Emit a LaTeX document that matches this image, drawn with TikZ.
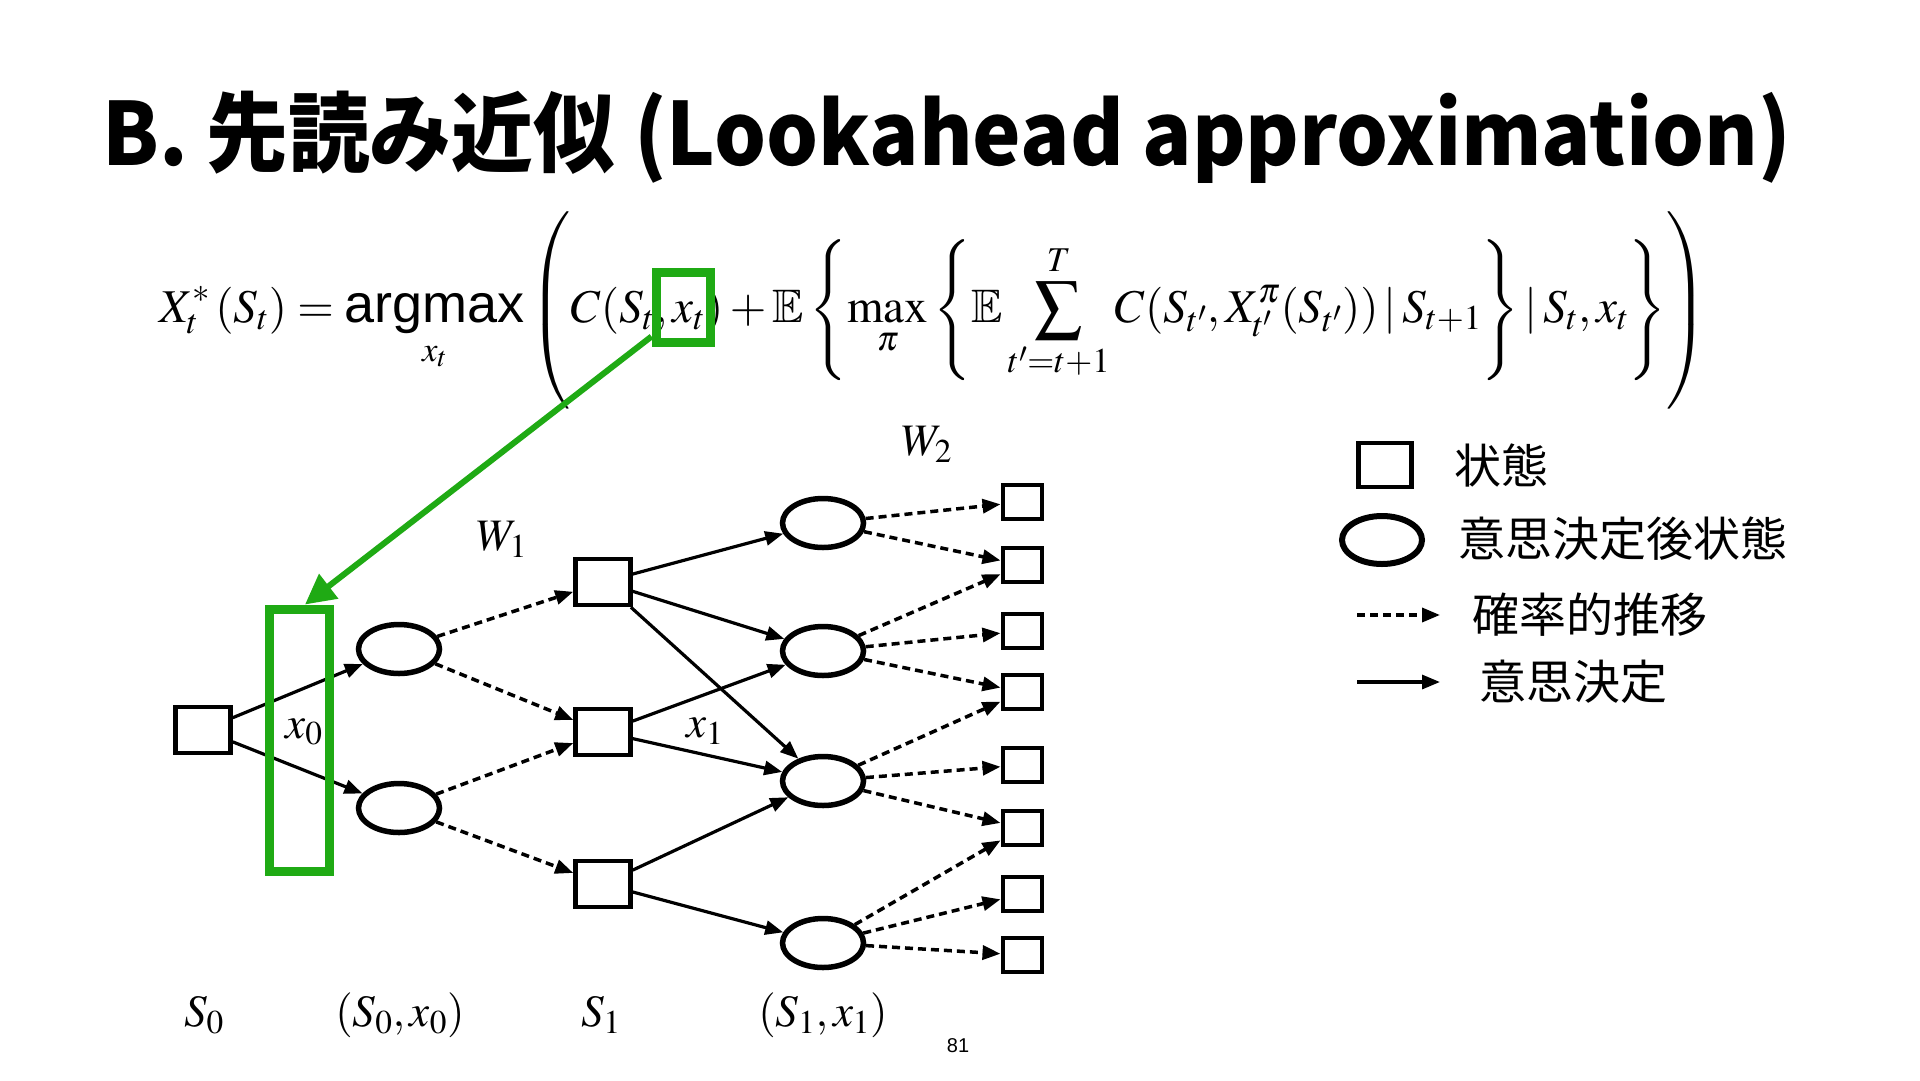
\documentclass[tikz,border=0pt]{standalone}
\usepackage{amsmath,amssymb}
\usepackage{mathptmx}
\usepackage{fontspec}
\setmainfont{Liberation Serif}
\setsansfont{Liberation Sans}
\newfontfamily\jp{Noto Sans CJK JP}
\newfontfamily\jph[FakeStretch=0.94]{Noto Sans CJK JP}
\usetikzlibrary{arrows.meta,calc,shapes.geometric}
\definecolor{grn}{RGB}{31,170,20}
\begin{document}
\begin{tikzpicture}[x=1pt,y=-1pt,
      st/.style={draw,line width=4.5pt,minimum width=55pt,minimum height=46pt,inner sep=0pt},
      lf/.style={draw,line width=4pt,minimum width=39pt,minimum height=34pt,inner sep=0pt},
      pd/.style={draw,ellipse,line width=5.5pt,minimum width=81pt,minimum height=49pt,inner sep=0pt},
      dec/.style={-{Triangle[length=18pt,width=14pt]},line width=3.2pt},
      rnd/.style={dec,line width=3.5pt,dash pattern=on 8pt off 5pt},
      lab/.style={font=\fontsize{45}{48}\selectfont},
      key/.style={anchor=west,font=\jp\fontsize{47}{52}\selectfont}]
    \fill[white] (0,0) rectangle (1920,1080);
    \useasboundingbox (0,0) rectangle (1920,1080);
    \node[anchor=base west,inner sep=0pt,font=\jph\bfseries\fontsize{87}{96}\selectfont] (title)
      at (102,165) {B. 先読み近似 (Lookahead approximation)};
    \node[anchor=base west,inner sep=0pt,font=\fontsize{47}{56}\selectfont] (eq) at (159,322)
      {$\displaystyle X_t^*\left(S_t\right) = \mathop{\text{\fontsize{54}{60}\selectfont\sffamily argmax}}\limits_{x_t}
        \left( \rule[-80pt]{0pt}{176pt} C(S_t, x_t) + \mathbb{E}\left\{ \max_\pi \left\{ \mathbb{E}
        \sum_{t'=t+1}^{T} C(S_{t'}, X^\pi_{t'}(S_{t'}))\,|\,S_{t+1} \right\}
        |\, S_t, x_t \right\}\right)$};
    % tree
    \node[st] (s0) at (203,730) {};
    \node[pd] (a1) at (399,649) {};
    \node[pd] (a2) at (399,808) {};
    \node[st] (s1) at (603,582) {};
    \node[st] (s2) at (603,732) {};
    \node[st] (s3) at (603,884) {};
    \foreach \n/\y in {b1/523,b2/651,b3/781,b4/943}
      \node[pd] (\n) at (823,\y) {};
    \foreach \n/\y in {1/502,2/565,3/631,4/692,5/765,6/828,7/894,8/955}
      \node[lf] (l\n) at (1022,\y) {};
    \foreach \t in {a1,a2}
      \draw[dec] (s0) -- (\t);
    \foreach \f/\t in {a1/s1,a1/s2,a2/s2,a2/s3}
      \draw[rnd] (\f) -- (\t);
    \foreach \f/\t in {s1/b1,s1/b2,s1/b3,s2/b2,s2/b3,s3/b3,s3/b4}
      \draw[dec] (\f) -- (\t);
    \foreach \f/\t in {b1/l1,b1/l2,b2/l2,b2/l3,b2/l4,b3/l4,b3/l5,b3/l6,b4/l6,b4/l7,b4/l8}
      \draw[rnd] (\f) -- (\t);
    \node[lab] (w1) at (502,539) {$W_1$};
    \node[lab] (w2) at (927,444) {$W_2$};
    \node[lab] (x0) at (304,732) {$x_0$};
    \node[lab] (x1) at (705,731) {$x_1$};
    \node[lab] (n0) at (204,1015) {$S_0$};
    \node[lab] (n1) at (400,1015) {$(S_0, x_0)$};
    \node[lab] (n2) at (601,1015) {$S_1$};
    \node[lab] (n3) at (823,1015) {$(S_1, x_1)$};
    \node[font=\sffamily\fontsize{20}{24}\selectfont] (pg) at (958,1046) {81};
    % highlight
    \node[draw=grn,line width=9pt,minimum width=54pt,minimum height=70pt] (xbox) at (683,307) {};
    \node[draw=grn,line width=9pt,minimum width=60pt,minimum height=262pt] (gbox) at (299,740) {};
    \draw[grn,line width=6pt,-{Triangle[length=30pt,width=30pt]}]
      ($(xbox.south west)+(0,-10)$) -- ($(gbox.north)+(6,0)$);
    % legend
    \node[st,minimum width=53pt,minimum height=44pt] (ks) at (1385,465) {};
    \node[pd,line width=6pt,minimum width=80pt,minimum height=48pt] (ke) at (1382,540) {};
    \coordinate (kd1) at (1357,615);
    \coordinate (kd2) at (1440,615);
    \coordinate (kc1) at (1357,682);
    \coordinate (kc2) at (1440,682);
    \draw[rnd] (kd1) -- (kd2);
    \draw[dec] (kc1) -- (kc2);
    \node[key] (t1) at (1451,465) {状態};
    \node[key] (t2) at (1455,539) {意思決定後状態};
    \node[key] (t3) at (1469,615) {確率的推移};
    \node[key] (t4) at (1476,682) {意思決定};
  \end{tikzpicture}
\end{document}
